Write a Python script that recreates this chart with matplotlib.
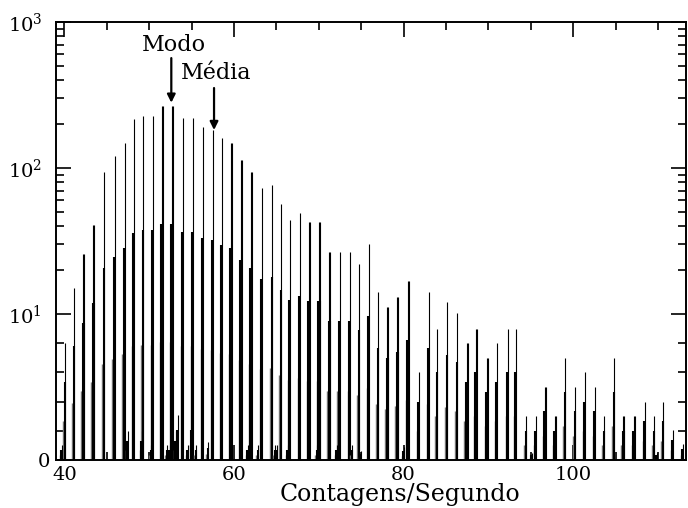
import numpy as np
import matplotlib
matplotlib.use('Agg')
import matplotlib.pyplot as plt
from matplotlib.ticker import FixedLocator, MultipleLocator, NullFormatter
from matplotlib.transforms import ScaledTranslation

plt.rcParams['font.family'] = 'DejaVu Serif'
plt.rcParams['mathtext.fontset'] = 'dejavuserif'

# picos principais: posicao (contagens/s) e numero de ocorrencias
picos_x = [40.14, 41.24, 42.30, 42.42, 43.48, 43.60, 44.78, 45.96, 47.14, 48.24,
           49.38, 50.48, 51.54, 51.66, 52.72, 52.84, 54.02, 55.20, 56.38, 57.56,
           58.62, 59.68, 59.80, 60.86, 60.98, 62.04, 62.16, 63.34, 64.57, 65.60,
           66.64, 67.80, 68.88, 69.00, 70.08, 70.20, 71.28, 71.40, 72.50, 73.70,
           74.80, 75.93, 77.07, 78.13, 78.25, 79.31, 79.43, 80.57, 80.69, 81.87,
           83.04, 84.00, 85.20, 86.40, 87.48, 87.60, 88.55, 88.67, 89.85, 89.97,
           91.03, 92.33, 93.30, 94.50, 95.67, 96.73, 96.85, 97.91, 98.03, 99.13,
           100.3, 101.4, 102.6, 103.7, 104.9, 105.98, 106.1, 107.18, 107.3, 108.5,
           109.6, 110.7, 111.8, 113.0]
picos_h = [8.0, 15.0, 25.6, 25.6, 40.7, 40.7, 93.3, 121, 149, 215,
           228, 228, 267, 267, 267, 267, 219, 219, 190, 182,
           160, 149, 149, 114, 114, 94.5, 94.5, 72.6, 76.5, 56.4,
           44.1, 48.9, 42.5, 42.5, 42.5, 42.5, 26.7, 26.7, 26.7, 26.7,
           21.9, 30.1, 14.2, 11.1, 11.1, 13.0, 13.0, 16.9, 16.9, 6.0,
           14.2, 9.0, 12.0, 10.1, 8.0, 8.0, 9.0, 9.0, 7.0, 7.0,
           8.0, 9.0, 9.0, 3.0, 3.0, 5.0, 5.0, 3.0, 3.0, 7.0,
           5.0, 6.0, 5.0, 3.0, 7.0, 3.0, 3.0, 3.0, 3.0, 4.0,
           3.0, 4.0, 2.05, 1.1]

# picos pequenos perto do zero
menores_x = [39.0, 39.74, 47.5, 49.2, 50.3, 52.2, 52.45, 52.7, 53.2, 53.4,
             54.6, 55.05, 55.6, 57.0, 61.7, 62.0, 62.9, 64.9, 65.1, 66.4,
             69.85, 72.2, 74.0, 75.0, 80.1, 95.15, 109.9]
menores_h = [0.9, 1.0, 2.0, 2.0, 1.0, 1.0, 1.0, 1.0, 2.0, 3.1,
             1.0, 3.1, 1.0, 1.2, 1.0, 1.0, 1.0, 1.0, 1.0, 1.0,
             1.0, 1.0, 1.0, 0.6, 0.9, 0.5, 0.5]

x_ticks = [40, 60, 80, 100]
y_ticks = [0, 10, 100, 1000]
y_labels = ['0', r'$10^1$', r'$10^2$', r'$10^3$']
y_minor = [2, 4, 6, 8, 20, 30, 40, 50, 60, 70, 80, 90,
           200, 300, 400, 500, 600, 700, 800, 900]

modo_x, modo_topo = 52.6, 280
media_x, media_topo = 57.64, 182


def draw_spikes(ax, xs, hs):
    # o pico e uma subida inclinada ate ao topo: no ecra fica uma coluna
    # cinzenta ate 1/3, uma barra preta ate 2/3 e um traco fino ate ao topo
    xs = np.asarray(xs, dtype=float)
    hs = np.asarray(hs, dtype=float)
    tr = ax.yaxis.get_transform()
    hd = tr.transform(hs)
    h13 = tr.inverted().transform(hd / 3)
    h23 = tr.inverted().transform(hd * 2 / 3)
    ax.vlines(xs - 0.30, 0, h13, color='#777777', lw=1.0)
    ax.vlines(xs - 0.12, 0, h23, color='black', lw=1.5)
    ax.vlines(xs - 0.06, 0, hs, color='black', lw=0.8)


fig = plt.figure(figsize=(6.88, 5.08), dpi=100)
ax = fig.add_axes([0.0814, 0.0945, 0.9156, 0.8622])

ax.set_yscale('symlog', linthresh=10, linscale=0.9)
draw_spikes(ax, picos_x, picos_h)
draw_spikes(ax, menores_x, menores_h)

ax.set_xlim(39, 113.3)
ax.set_ylim(0, 1000)

ax.set_xticks(x_ticks)
ax.xaxis.set_minor_locator(MultipleLocator(5))
ax.set_yticks(y_ticks)
ax.set_yticklabels(y_labels)
ax.yaxis.set_minor_locator(FixedLocator(y_minor))
ax.yaxis.set_minor_formatter(NullFormatter())

ax.tick_params(which='both', direction='in', top=True, right=True,
               width=1.2, labelsize=14)
ax.tick_params(which='major', length=11)
ax.tick_params(axis='x', which='major', pad=4)
ax.tick_params(axis='y', which='major', pad=10)
ax.tick_params(which='minor', length=5.5)
for s in ax.spines.values():
    s.set_linewidth(1.4)

# o rotulo "0" fica mais perto do eixo
zero_lbl = ax.yaxis.get_major_ticks()[0].label1
zero_lbl.set_transform(zero_lbl.get_transform()
                       + ScaledTranslation(5.7 / 72, 0, fig.dpi_scale_trans))

ax.set_xlabel('Contagens/Segundo', fontsize=17, labelpad=0)
ax.xaxis.set_label_coords(0.546, -0.052)

# setas de moda e media
seta = dict(arrowstyle='-|>', color='black', lw=1.6, mutation_scale=12,
            shrinkA=0, shrinkB=0)
ax.annotate('', xy=(modo_x, modo_topo), xytext=(modo_x, 566), arrowprops=seta)
ax.annotate('', xy=(media_x, media_topo), xytext=(media_x, 353), arrowprops=seta)
ax.text(modo_x + 0.35, 700, 'Modo', fontsize=16, ha='center', va='center')
ax.text(media_x + 0.2, 447, 'Média', fontsize=16, ha='center', va='center')

fig.savefig('out.png', dpi=100)
